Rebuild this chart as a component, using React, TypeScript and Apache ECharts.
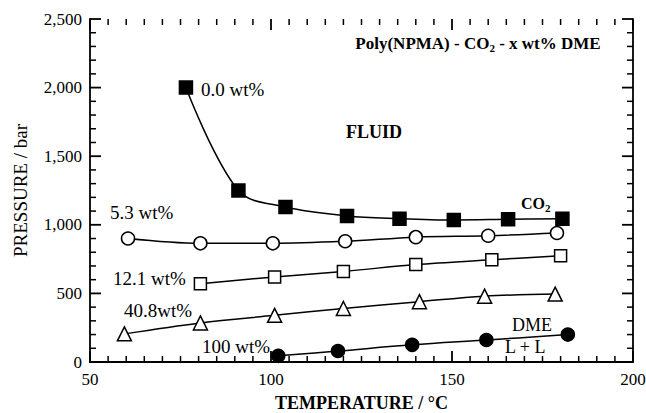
import React, { useEffect, useRef } from "react";
import * as echarts from "echarts";

// Data: [temperature °C, pressure bar]
const s00: [number, number][] = [
  [76.5, 2000], [91, 1250], [104, 1130], [121, 1065], [135.5, 1045], [150.5, 1035], [165.5, 1040], [180.5, 1045],
];
const s53: [number, number][] = [
  [60.5, 900], [80.5, 865], [100.5, 865], [120.5, 880], [140, 910], [160, 920], [179, 940],
];
const s121: [number, number][] = [
  [80.5, 570], [101, 620], [120, 660], [140, 710], [161, 745], [180, 775],
];
const s408: [number, number][] = [
  [59.5, 205], [80.5, 285], [101, 340], [120, 390], [141, 440], [159, 480], [178.5, 495],
];
const s100: [number, number][] = [
  [102, 45], [118.5, 80], [139, 125], [159.5, 160], [182, 200],
];

const xTicks = { min: 50, max: 200, interval: 50 };
const yTicks = { min: 0, max: 2500, interval: 500 };
const xMinorStep = 5;
const yMinorStep = 100;

// tick descriptors: [value, dim (0 = x, 1 = y), major (1/0)]
const tickMarks: [number, number, number][] = [];
for (let v = xTicks.min; v <= xTicks.max; v += xMinorStep) {
  tickMarks.push([v, 0, v % xTicks.interval === 0 ? 1 : 0]);
}
for (let v = yTicks.min; v <= yTicks.max; v += yMinorStep) {
  tickMarks.push([v, 1, v % yTicks.interval === 0 ? 1 : 0]);
}

const FONT = '"Liberation Serif", "Times New Roman", serif';

export default function App() {
  const ref = useRef<HTMLDivElement>(null);
  useEffect(() => {
    if (!ref.current) return;
    document.body.style.margin = "0";
    const chart = echarts.init(ref.current, undefined, { renderer: "svg" });
    const axisLine = { show: true, lineStyle: { color: "#000", width: 1.8 } };
    const label = { fontFamily: FONT, fontSize: 17, color: "#000" };
    const lineStyle = { color: "#000", width: 1.5 };
    const mk = (data: [number, number][], symbol: string, size: number, fill: string) => ({
      type: "line",
      data,
      smooth: 0.35,
      symbol,
      symbolSize: size,
      showAllSymbol: true,
      lineStyle,
      itemStyle: { color: fill, borderColor: "#000", borderWidth: 1.5 },
      z: 3,
    });
    const txt = (text: string, x: number, y: number, size: number, weight = "normal", align = "left") => ({
      type: "text",
      x,
      y,
      z: 10,
      style: {
        text,
        fill: "#000",
        font: `${weight} ${size}px ${FONT}`,
        verticalAlign: "middle",
        align,
      },
    });
    const tickSeries = {
      type: "custom",
      data: tickMarks,
      encode: { x: 0, y: 1 },
      clip: false,
      silent: true,
      z: 5,
      renderItem: (params: any, api: any) => {
        const v = api.value(0);
        const dim = api.value(1);
        const major = api.value(2) === 1;
        const cs = params.coordSys;
        const len = major ? 11 : 6;
        const lw = major ? 1.8 : 1.5;
        const st = { stroke: "#000", lineWidth: lw };
        if (dim === 0) {
          const px = api.coord([v, yTicks.min])[0];
          const yb = cs.y + cs.height;
          return {
            type: "group",
            children: [
              { type: "line", shape: { x1: px, y1: yb, x2: px, y2: yb - len }, style: st },
              { type: "line", shape: { x1: px, y1: cs.y, x2: px, y2: cs.y + len }, style: st },
            ],
          };
        }
        const py = api.coord([xTicks.min, v])[1];
        const xr = cs.x + cs.width;
        return {
          type: "group",
          children: [
            { type: "line", shape: { x1: cs.x, y1: py, x2: cs.x + len, y2: py }, style: st },
            { type: "line", shape: { x1: xr, y1: py, x2: xr - len, y2: py }, style: st },
          ],
        };
      },
    };
    chart.setOption({
      animation: false,
      backgroundColor: "#fff",
      grid: { left: 90, right: 13, top: 19, bottom: 51, outerBoundsMode: "none" },
      xAxis: [
        {
          type: "value",
          ...xTicks,
          position: "bottom",
          axisLine,
          axisTick: { show: false },
          splitLine: { show: false },
          axisLabel: { ...label, margin: 9 },
          name: "TEMPERATURE / °C",
          nameLocation: "middle",
          nameGap: 32,
          nameTextStyle: { fontFamily: FONT, fontSize: 18, fontWeight: "bold", color: "#000" },
        },
        {
          type: "value",
          ...xTicks,
          position: "top",
          axisLine,
          axisTick: { show: false },
          splitLine: { show: false },
          axisLabel: { show: false },
        },
      ],
      yAxis: [
        {
          type: "value",
          ...yTicks,
          position: "left",
          axisLine,
          axisTick: { show: false },
          splitLine: { show: false },
          axisLabel: {
            ...label,
            margin: 8,
            formatter: (v: number) => v.toLocaleString("en-US"),
          },
          name: "PRESSURE / bar",
          nameLocation: "middle",
          nameRotate: 90,
          nameGap: 60,
          nameTextStyle: { fontFamily: FONT, fontSize: 19, color: "#000" },
        },
        {
          type: "value",
          ...yTicks,
          position: "right",
          axisLine,
          axisTick: { show: false },
          splitLine: { show: false },
          axisLabel: { show: false },
        },
      ],
      series: [
        tickSeries,
        mk(s00, "rect", 13, "#000"),
        mk(s53, "circle", 13, "#fff"),
        mk(s121, "rect", 12, "#fff"),
        mk(s408, "triangle", 14, "#fff"),
        mk(s100, "circle", 13, "#000"),
      ],
      graphic: [
        {
          type: "text",
          x: 478,
          y: 43,
          z: 10,
          style: {
            text: "{a|Poly(NPMA) - CO}{s|2}{a| - x wt% DME}",
            align: "center",
            verticalAlign: "middle",
            fill: "#000",
            rich: {
              a: { fontFamily: FONT, fontSize: 17, fontWeight: "bold", color: "#000" },
              s: { fontFamily: FONT, fontSize: 11, fontWeight: "bold", color: "#000", padding: [9, 0, 0, 0] },
            },
          },
        },
        {
          type: "text",
          x: 521,
          y: 203,
          z: 10,
          style: {
            text: "{a|CO}{s|2}",
            align: "left",
            verticalAlign: "middle",
            fill: "#000",
            rich: {
              a: { fontFamily: FONT, fontSize: 16, fontWeight: "bold", color: "#000" },
              s: { fontFamily: FONT, fontSize: 11, fontWeight: "bold", color: "#000", padding: [9, 0, 0, 0] },
            },
          },
        },
        txt("FLUID", 346, 132, 18, "bold"),
        txt("0.0 wt%", 201, 89, 19),
        txt("5.3 wt%", 110, 212, 19),
        txt("12.1 wt%", 113, 278, 19),
        txt("40.8wt%", 124, 310, 19),
        txt("100 wt%", 202, 346, 19),
        txt("DME", 512, 325, 18),
        txt("L + L", 505, 347, 18),
      ],
    });
    return () => chart.dispose();
  }, []);
  return (
    <div
      ref={ref}
      style={{ position: "absolute", left: 0, top: 0, width: 646, height: 413 }}
    />
  );
}
